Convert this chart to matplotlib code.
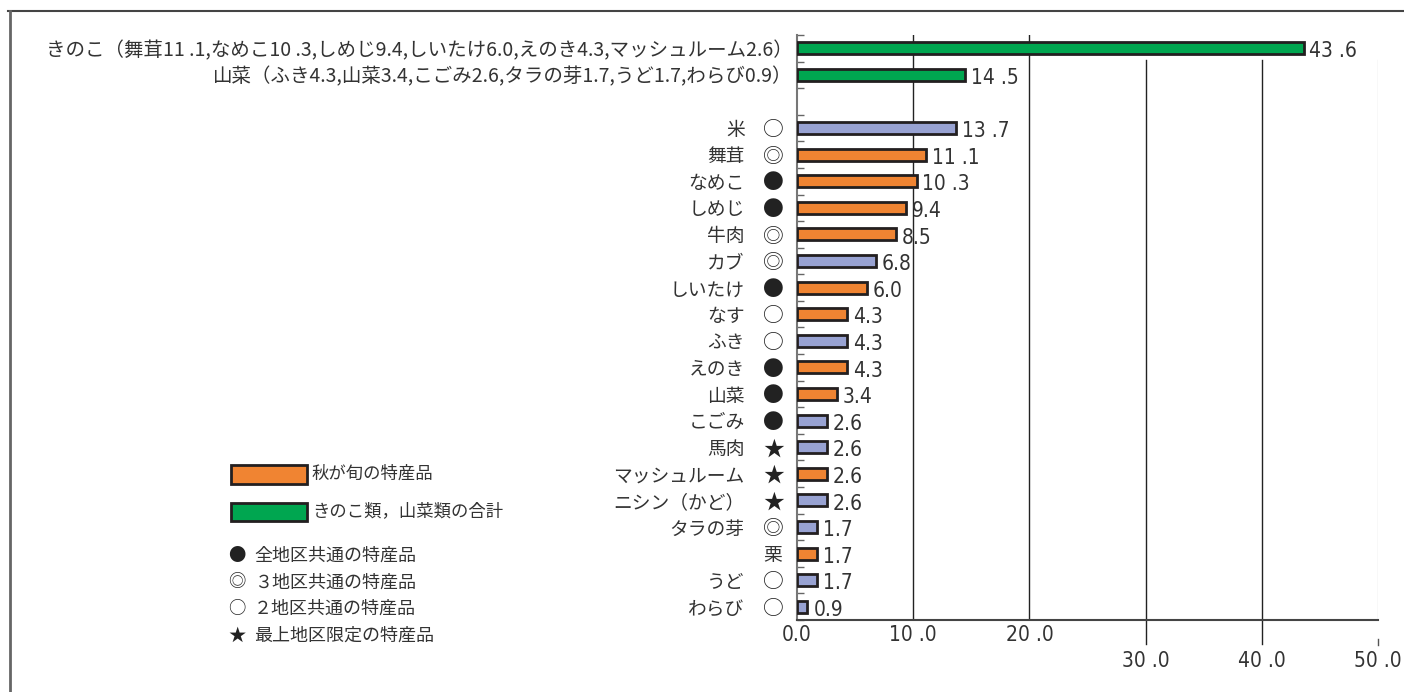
import matplotlib
matplotlib.use('Agg')
import matplotlib.pyplot as plt
from matplotlib.patches import Rectangle
from matplotlib.lines import Line2D
import numpy as np

plt.rcParams['font.family'] = ['Noto Sans CJK JP', 'DejaVu Sans']

# totals (green bars)
total_labels = ['きのこ（舞茸11 .1,なめこ10 .3,しめじ9.4,しいたけ6.0,えのき4.3,マッシュルーム2.6）',
                '山菜（ふき4.3,山菜3.4,こごみ2.6,タラの芽1.7,うど1.7,わらび0.9）']
total_values = [43.6, 14.5]

# individual products
items = ['米', '舞茸', 'なめこ', 'しめじ', '牛肉', 'カブ', 'しいたけ', 'なす', 'ふき', 'えのき',
         '山菜', 'こごみ', '馬肉', 'マッシュルーム', 'ニシン（かど）', 'タラの芽', '栗', 'うど', 'わらび']
values = [13.7, 11.1, 10.3, 9.4, 8.5, 6.8, 6.0, 4.3, 4.3, 4.3,
          3.4, 2.6, 2.6, 2.6, 2.6, 1.7, 1.7, 1.7, 0.9]
autumn = [0, 1, 1, 1, 1, 0, 1, 1, 0, 1,
          1, 0, 0, 1, 0, 0, 1, 0, 0]
marks = ['○', '◎', '●', '●', '◎', '◎', '●', '○', '○', '●',
         '●', '●', '★', '★', '★', '◎', '', '○', '○']

xticks = [0, 10, 20, 30, 40, 50]

ORANGE = '#F08432'
LAV = '#98A2D2'
GREEN = '#00A650'
EDGE = '#231F20'


def fmt(v):
    s = f'{v:.1f}'
    if v >= 10:
        s = s.replace('.', ' .')
    return s


num_kw = dict(family='DejaVu Sans', fontstretch='condensed', fontsize=15, color='#333333')

fig = plt.figure(figsize=(14.04, 6.92), dpi=100)
ax = fig.add_axes([797 / 1404, (692 - 620) / 692, 581 / 1404, 585 / 692])

# frame of the figure
fig.add_artist(Line2D([8 / 1404, 1], [1 - 11 / 692, 1 - 11 / 692], transform=fig.transFigure, color='#444444', lw=1.5))
fig.add_artist(Line2D([10 / 1404, 10 / 1404], [0, 1 - 11 / 692], transform=fig.transFigure, color='#666666', lw=2))

# total bars
tot_pos = [0, 1]
ax.barh(tot_pos, total_values, height=0.45, color=GREEN, edgecolor=EDGE, linewidth=2, zorder=3)
for p, v, lab in zip(tot_pos, total_values, total_labels):
    ax.text(v + 0.5, p + 0.12, fmt(v), va='center', ha='left', **num_kw)
    ax.text(-0.4, p + 0.08, lab, va='center', ha='right', fontsize=14, color='#333333', clip_on=False)

# item bars
pos = np.arange(len(items)) + 3
cols = [ORANGE if a else LAV for a in autumn]
ax.barh(pos, values, height=0.45, color=cols, edgecolor=EDGE, linewidth=2, zorder=3)
for p, v, name, m in zip(pos, values, items, marks):
    ax.text(v + 0.5, p + 0.12, fmt(v), va='center', ha='left', **num_kw)
    if m:
        ax.text(-4.5, p + 0.08, name, va='center', ha='right', fontsize=13.5, color='#333333', clip_on=False)
        ax.text(-2.05, p + 0.08, m, va='center', ha='center', fontsize=15, color='#222222', clip_on=False)
    else:
        ax.text(-2.05, p + 0.08, name, va='center', ha='center', fontsize=13.5, color='#333333', clip_on=False)

ax.set_xlim(0, 50)
ax.set_ylim(21.5, -0.5)

# grid lines (drawn by hand, the layout is unusual)
for x in [10, 20]:
    ax.plot([x, x], [-0.5, 21.5], color='#222222', lw=1, zorder=1)
for x in [30, 40]:
    ax.plot([x, x], [0.45, 22.4], color='#222222', lw=1, clip_on=False, zorder=1)
ax.plot([50, 50], [0.45, 21.5], color='#dddddd', lw=1, zorder=1)
ax.plot([50, 50], [22.2, 22.45], color='#555555', lw=1, clip_on=False, zorder=1)

ax.set_xticks([])
for x in xticks:
    y = 22.05 if x < 30 else 23.05
    ax.text(x, y, fmt(float(x)), ha='center', va='center', clip_on=False, **num_kw)

ax.set_yticks(np.arange(-0.5, 22, 1))
ax.set_yticklabels([])
ax.tick_params(axis='y', direction='in', length=5, color='#666666', width=1)
ax.tick_params(axis='x', length=0)
for s in ['top', 'right']:
    ax.spines[s].set_visible(False)
ax.spines['left'].set_color('#777777')
ax.spines['left'].set_linewidth(1.5)
ax.spines['bottom'].set_color('#444444')
ax.spines['bottom'].set_linewidth(1.5)


# legend, drawn in figure pixels
def fx(px):
    return px / 1404


def fy(py):
    return 1 - py / 692


fig.add_artist(Rectangle((fx(231), fy(484)), fx(307) - fx(231), fy(465) - fy(484), transform=fig.transFigure,
                         facecolor=ORANGE, edgecolor=EDGE, lw=2))
fig.text(fx(312), fy(474), '秋が旬の特産品', ha='left', va='center', fontsize=12.5, color='#333333')
fig.add_artist(Rectangle((fx(231), fy(521)), fx(307) - fx(231), fy(503) - fy(521), transform=fig.transFigure,
                         facecolor=GREEN, edgecolor=EDGE, lw=2))
fig.text(fx(312), fy(511), 'きのこ類，山菜類の合計', ha='left', va='center', fontsize=12.5, color='#333333')

leg_marks = ['●', '◎', '○', '★']
leg_texts = ['全地区共通の特産品', '３地区共通の特産品', '２地区共通の特産品', '最上地区限定の特産品']
for i, (m, t) in enumerate(zip(leg_marks, leg_texts)):
    y = 556 + i * 26.5
    fig.text(fx(237), fy(y), m, ha='center', va='center', fontsize=12.5, color='#222222')
    fig.text(fx(254), fy(y), t, ha='left', va='center', fontsize=13, color='#333333')

fig.savefig('out.png', dpi=100)
